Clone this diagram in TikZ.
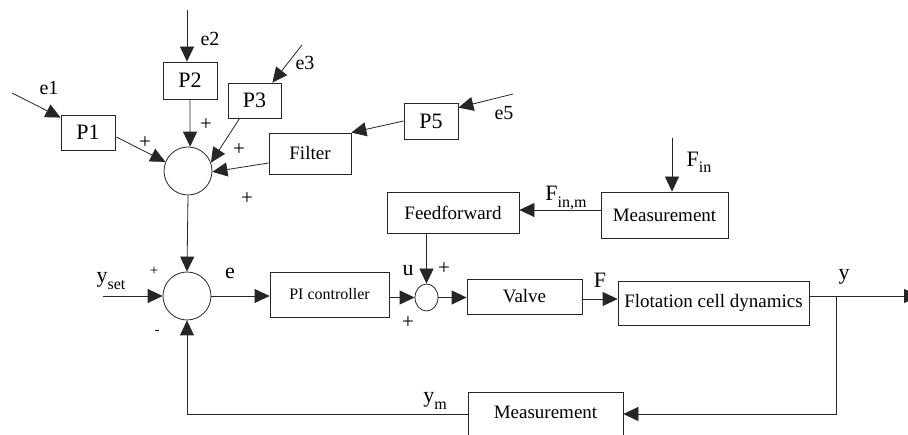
\documentclass[tikz,border=0pt]{standalone}
\usepackage{fontspec}
\setmainfont{Liberation Serif}
\usepackage{graphicx}
\usetikzlibrary{arrows.meta,shapes.geometric,calc}

% lowered subscript used in signal names
\newcommand{\lsub}[1]{\raisebox{-0.28em}{\fontsize{16}{16}\selectfont#1}}

\begin{document}
\begin{tikzpicture}[x=1pt,y=-1pt,line width=0.8pt,
  box/.style={draw=black!85, rectangle, inner sep=0pt, font=\fontsize{19}{22}\selectfont},
  pbox/.style={box, font=\fontsize{22}{24}\selectfont},
  sumnode/.style={draw=black!85, circle, inner sep=0pt, minimum size=48pt},
  flow/.style={draw=black!85, -{Triangle[length=15pt,width=14pt]}},
  lab/.style={inner sep=0pt, font=\fontsize{22}{24}\selectfont},
  sign/.style={inner sep=0pt, font=\fontsize{21}{23}\selectfont},
  smallsign/.style={inner sep=0pt, font=\fontsize{15}{17}\selectfont}]

\useasboundingbox (0,0) rectangle (908,435);
\clip (0,0) rectangle (908,435);

% ---- disturbance blocks ----
\node[pbox, minimum width=54pt, minimum height=35pt] (P1) at (88,132.5) {P1};
\node[pbox, minimum width=54pt, minimum height=37pt] (P2) at (190,80.5) {P2};
\node[pbox, minimum width=53pt, minimum height=35pt] (P3) at (254.5,100.5) {P3};
\node[pbox, minimum width=54pt, minimum height=36pt] (P5) at (431,121) {P5};
\node[box, minimum width=82pt, minimum height=41pt] (Filter) at (310,153.5) {Filter};

% ---- main loop blocks ----
\node[sumnode] (sum1) at (188,171) {};
\node[sumnode] (sum2) at (187,296) {};
\node[box, minimum width=119pt, minimum height=45pt, font=\fontsize{16}{18}\selectfont] (PI) at (329.5,294.5) {PI controller};
\node[draw=black!85, ellipse, inner sep=0pt, minimum width=23pt, minimum height=27pt] (sum3) at (426.5,297.5) {};
\node[box, minimum width=115pt, minimum height=35pt] (Valve) at (524.5,296.5) {Valve};
\node[box, minimum width=191pt, minimum height=44pt] (Flot) at (713.5,303) {Flotation cell dynamics};
\node[box, minimum width=132pt, minimum height=41pt] (FF) at (453,212.5) {Feedforward};
\node[box, minimum width=127pt, minimum height=46pt] (MT) at (664.5,215) {Measurement};
\node[box, minimum width=155pt, minimum height=44pt] (MB) at (545.5,414) {\raisebox{3pt}{Measurement}};

% ---- free ends ----
\coordinate (e1s) at (12,93);
\coordinate (e2s) at (187,10);
\coordinate (e3s) at (302,45);
\coordinate (e5s) at (513,94);
\coordinate (fins) at (672,138);
\coordinate (yset) at (103,296);
\coordinate (br) at (836,296);
\coordinate (out) at (919,296);
\coordinate (corner) at (836,414);

% ---- disturbance connectors ----
\draw[flow] (e1s) -- ($(P1.north west)+(0,3)$);
\draw[flow] (e2s) -- (e2s |- P2.north);
\draw[flow] (e3s) -- ($(P3.north east)+(-9,0)$);
\draw[flow] (e5s) -- ($(P5.north east)+(0,5)$);
\draw[flow] (P5.west) -- (Filter.north east);
\draw[flow] ($(P1.east)+(1,4.5)$) -- (sum1.158);
\draw[flow] (P2.south) -- (sum1.85);
\draw[flow] ($(P3.south west)+(12,0)$) -- (sum1.20);
\draw[flow] ($(Filter.west)+(0,9.5)$) -- (sum1.-2);
\draw[flow] (sum1.south) -- (sum2.north);

% ---- main loop connectors ----
\draw[flow] (yset) -- (sum2.west);
\draw[flow] (sum2.east) -- (PI.west |- sum2.east);
\draw[flow] (PI.east |- sum3.west) -- (sum3.west);
\draw[flow] (sum3.east) -- (Valve.west |- sum3.east);
\draw[flow] ($(Valve.east)+(0,2.5)$) -- ($(Flot.west)+(0,-4)$);
\draw[flow] (Flot.east |- br) -- (out);
\draw[flow] (br) -- (corner) -- (MB.east);
\draw[flow] (MB.west) -- (sum2.south |- MB.west) -- (sum2.south);
\draw[flow] (fins) -- (fins |- MT.north);
\draw[flow] ($(MT.west)+(0,-5)$) -- ($(FF.east)+(0,-2.5)$);
\draw[flow] (FF.south -| sum3.north) -- (sum3.north);

% ---- signal labels ----
\node[lab, font=\fontsize{20}{22}\selectfont] (le1) at (49,88) {e1};
\node[lab, font=\fontsize{20}{22}\selectfont] (le2) at (210,39) {e2};
\node[lab, font=\fontsize{20}{22}\selectfont] (le3) at (305,63) {e3};
\node[lab, font=\fontsize{20}{22}\selectfont] (le5) at (504,113) {e5};
\node[lab] (lyset) at (111,281) {y\lsub{set}};
\node[lab] (le) at (230,273) {e};
\node[lab] (lu) at (408,271) {u};
\node[lab] (lF) at (600,280) {F};
\node[lab] (ly) at (844,277) {y};
\node[lab] (lym) at (435,401) {y\lsub{m}};
\node[lab] (lfin) at (699,162) {F\lsub{in}};
\node[lab] (lfinm) at (566,198) {F\lsub{in,m}};

% ---- summation signs ----
\node[sign] (s1) at (145,143) {+};
\node[sign] (s2) at (206,125) {+};
\node[sign] (s3) at (239,150) {+};
\node[sign] (s4) at (247,199) {+};
\node[smallsign] (s5) at (154,271) {+};
\node[smallsign] (s6) at (157,332) {-};
\node[sign] (s7) at (444,269) {+};
\node[sign] (s8) at (408,323) {+};
\end{tikzpicture}
\end{document}
